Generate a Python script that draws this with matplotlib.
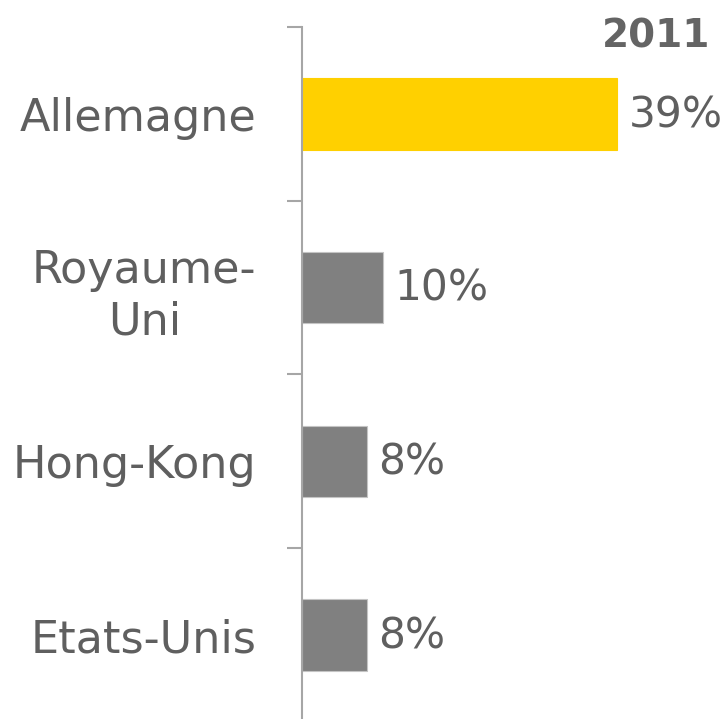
#!/usr/bin/env python3

import matplotlib
matplotlib.use('Agg')
from matplotlib import pyplot as plt

# data
countries = ["Allemagne", "Royaume-\nUni", "Hong-Kong", "Etats-Unis"]
shares = [39, 10, 8, 8]
bar_colors = ["#FFD000", "#808080", "#808080", "#808080"]
year_label = "2011"

TEXT = "#5f5f5f"
AXIS = "#a6a6a6"


def main():
    plt.rcParams['font.family'] = ['DejaVu Sans']
    fig = plt.figure(figsize=(7.25, 7.19), dpi=100)
    # axes placed so the spine sits at x~302px, top tick at y~27px
    ax = fig.add_axes([0.417, -0.004, 0.557, 0.9664])

    pos = list(range(len(countries)))
    ax.barh(pos, shares, height=0.41, color=bar_colors,
            edgecolor=["#FFD000", "#c4c4c4", "#c4c4c4", "#c4c4c4"], linewidth=0.8)
    for y, v in zip(pos, shares):
        ax.annotate("%d%%" % v, xy=(v, y), xytext=(8, -1),
                    textcoords="offset points", va="center", ha="left",
                    fontsize=30.5, color=TEXT)

    ax.set_xlim(0, 50)
    ax.set_ylim(len(countries) - 0.5, -0.5)

    # labels on major ticks, boundary ticks as minor ticks
    ax.set_yticks(pos)
    ax.set_yticklabels(countries, fontsize=32, color=TEXT, multialignment="center")
    ax.tick_params(axis="y", which="major", length=0, pad=33)
    for lbl in ax.get_yticklabels():
        lbl.set_linespacing(1.25)
    ax.set_yticks([p - 0.5 for p in pos] + [len(pos) - 0.5], minor=True)
    ax.tick_params(axis="y", which="minor", length=11, width=1.5, color=AXIS,
                   direction="out")
    ax.set_xticks([])

    for side in ["top", "right", "bottom"]:
        ax.spines[side].set_visible(False)
    ax.spines["left"].set_color(AXIS)
    ax.spines["left"].set_linewidth(1.5)

    fig.text(710 / 725, 1 - 47 / 719, year_label, ha="right", va="baseline",
             fontsize=28, fontweight="bold", color="#646464")

    plt.savefig("out.png", dpi=100)


if __name__ == "__main__":
    main()
